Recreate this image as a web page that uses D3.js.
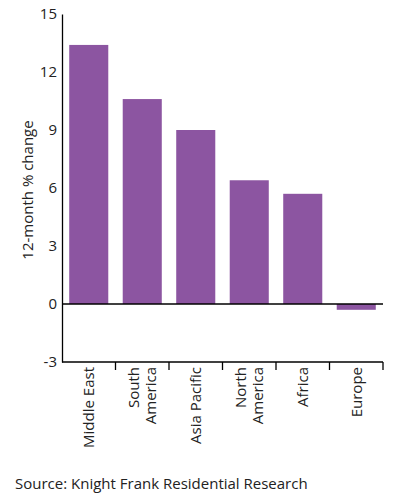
<!DOCTYPE html>
<html>
<head>
<meta charset="utf-8">
<script src="https://cdn.jsdelivr.net/npm/d3@7"></script>
<style>
  body { margin: 0; background: #fff; }
  text { font-family: "Open Sans", "Noto Sans", sans-serif; fill: #222; }
</style>
</head>
<body>
<svg></svg>
<script>
let regions = [["Middle East"], ["South", "America"], ["Asia Pacific"], ["North", "America"], ["Africa"], ["Europe"]]
let regionKeys = regions.map(d => d.join(" "))
let changes = [13.4, 10.6, 9.0, 6.4, 5.7, -0.3]
let yTicks = [-3, 0, 3, 6, 9, 12, 15]

let svgWidth = 397
let svgHeight = 497

let svg = d3.select("svg")
  .attr("width", svgWidth)
  .attr("height", svgHeight)

let plotLeft = 62, plotRight = 383, plotTop = 14, plotBottom = 362

// SCALES
let xScale = d3.scaleBand()
  .domain(regionKeys)
  .range([plotLeft, plotRight])
  .paddingInner(0.27)
  .paddingOuter(0.135)

let yScale = d3.scaleLinear()
  .domain([-3, 15])
  .range([plotBottom, plotTop])

// BARS
svg.selectAll("rect.bar")
  .data(changes)
  .enter()
  .append("rect")
  .attr("class", "bar")
  .attr("x", (d, i) => xScale(regionKeys[i]))
  .attr("width", xScale.bandwidth())
  .attr("y", d => yScale(Math.max(0, d)))
  .attr("height", d => Math.abs(yScale(d) - yScale(0)))
  .attr("fill", "#8c55a1")

// Y AXIS
let yAxis = d3.axisLeft(yScale)
  .tickValues(yTicks)
  .tickFormat(d => String(d))
  .tickSize(0)
  .tickPadding(5)

let yG = svg.append("g")
  .attr("transform", `translate(${plotLeft}, 0)`)
  .call(yAxis)
yG.select(".domain").attr("stroke", "#000").attr("stroke-width", 1.3)
yG.selectAll("text")
  .style("font-size", "15px")
  .style("font-family", "'Open Sans', sans-serif")
  .attr("fill", "#222")

// zero line
svg.append("line")
  .attr("x1", plotLeft).attr("x2", plotRight)
  .attr("y1", yScale(0)).attr("y2", yScale(0))
  .attr("stroke", "#000").attr("stroke-width", 1.3)

// X AXIS (bottom)
svg.append("line")
  .attr("x1", plotLeft).attr("x2", plotRight)
  .attr("y1", plotBottom).attr("y2", plotBottom)
  .attr("stroke", "#000").attr("stroke-width", 1.3)

// ticks at the right edge of each band slot
let step = xScale.step()
let outer = step * 0.135
svg.selectAll("line.xtick")
  .data(regionKeys)
  .enter()
  .append("line")
  .attr("class", "xtick")
  .attr("x1", d => xScale(d) - outer + step)
  .attr("x2", d => xScale(d) - outer + step)
  .attr("y1", plotBottom)
  .attr("y2", plotBottom + 8)
  .attr("stroke", "#000")
  .attr("stroke-width", 1.3)

// X LABELS
let labelG = svg.selectAll("g.xlabel")
  .data(regions)
  .enter()
  .append("g")
  .attr("class", "xlabel")
  .attr("transform", (d, i) => {
    let cx = xScale(regionKeys[i]) + xScale.bandwidth() / 2
    return `translate(${cx}, ${plotBottom + 5}) rotate(-90)`
  })

labelG.each(function (lines) {
  let g = d3.select(this)
  let lh = 17
  let off = -(lines.length - 1) * lh / 2
  lines.forEach((t, j) => {
    g.append("text")
      .attr("x", 0)
      .attr("y", off + j * lh)
      .attr("dy", "0.35em")
      .attr("text-anchor", "end")
      .style("font-size", "15px")
      .text(t)
  })
})

// Y TITLE
svg.append("text")
  .attr("transform", `translate(28, 190) rotate(-90)`)
  .attr("text-anchor", "middle")
  .attr("dy", "0.35em")
  .style("font-size", "15px")
  .text("12-month % change")

// SOURCE
svg.append("text")
  .attr("x", 15)
  .attr("y", 489)
  .style("font-size", "15px")
  .text("Source: Knight Frank Residential Research")
</script>
</body>
</html>
